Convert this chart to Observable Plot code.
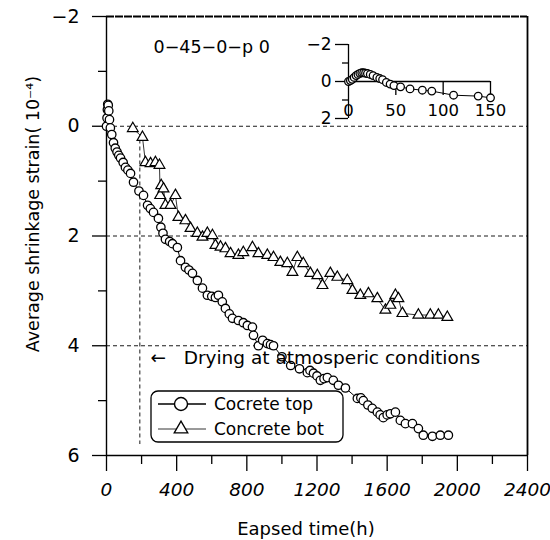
<!DOCTYPE html>
<html><head><meta charset="utf-8">
<script src="https://cdn.jsdelivr.net/npm/d3@7"></script>
<script src="https://cdn.jsdelivr.net/npm/@observablehq/plot@0.6"></script>
<style>
body{margin:0;background:#fff;}
#wrap{position:relative;width:550px;height:540px;font-family:"DejaVu Sans",sans-serif;}
#inset{position:absolute;left:300px;top:30px;}
#legend{position:absolute;left:150px;top:390px;}
</style></head><body><div id="wrap"><div id="main"></div><div id="inset"></div><div id="legend"></div></div>
<script>
// ---- data ----
const topTime   = [0, 3, 5, 7, 10, 13, 17, 22, 30, 40, 50, 60, 70, 80, 95, 108, 122, 137, 154, 185, 211, 234, 250, 268, 296, 310, 322, 336, 360, 376, 404, 422, 450, 470, 490, 518, 547, 575, 600, 621, 638, 660, 678, 700, 718, 752, 780, 803, 832, 838, 866, 890, 917, 935, 952, 1000, 1050, 1100, 1145, 1160, 1180, 1200, 1219, 1240, 1259, 1293, 1322, 1362, 1430, 1450, 1464, 1490, 1515, 1544, 1560, 1578, 1600, 1618, 1647, 1675, 1704, 1744, 1778, 1806, 1858, 1903, 1949];
const topStrain = [0, -0.15, -0.3, -0.4, -0.38, -0.28, -0.12, 0.03, 0.15, 0.3, 0.4, 0.47, 0.53, 0.58, 0.66, 0.75, 0.8, 0.86, 1.02, 1.18, 1.26, 1.44, 1.5, 1.57, 1.68, 1.84, 1.95, 2.06, 2.1, 2.14, 2.21, 2.45, 2.57, 2.62, 2.68, 2.81, 2.95, 3.08, 3.1, 3.12, 3.08, 3.2, 3.32, 3.42, 3.5, 3.54, 3.58, 3.63, 3.66, 3.81, 4.0, 3.9, 3.96, 3.98, 4.0, 4.2, 4.36, 4.42, 4.49, 4.45, 4.5, 4.55, 4.63, 4.6, 4.58, 4.63, 4.72, 4.77, 4.96, 4.95, 5.0, 5.08, 5.14, 5.21, 5.26, 5.31, 5.26, 5.24, 5.21, 5.36, 5.42, 5.42, 5.51, 5.63, 5.65, 5.63, 5.63];
const botTime   = [150, 205, 222, 251, 279, 302, 306, 312, 325, 336, 365, 393, 410, 450, 479, 518, 547, 575, 604, 621, 650, 678, 707, 752, 780, 832, 866, 917, 952, 991, 1031, 1060, 1088, 1122, 1162, 1202, 1231, 1276, 1316, 1373, 1402, 1447, 1493, 1544, 1590, 1618, 1647, 1664, 1687, 1778, 1846, 1892, 1943];
const botStrain = [0.04, 0.2, 0.66, 0.68, 0.66, 0.71, 1.26, 1.08, 1.14, 1.44, 1.44, 1.26, 1.66, 1.72, 1.86, 1.95, 2.02, 1.95, 1.99, 2.17, 2.2, 2.23, 2.32, 2.35, 2.3, 2.21, 2.32, 2.35, 2.39, 2.48, 2.5, 2.66, 2.39, 2.5, 2.68, 2.72, 2.9, 2.68, 2.75, 2.81, 2.99, 3.08, 3.05, 3.14, 3.35, 3.26, 3.08, 3.14, 3.41, 3.44, 3.44, 3.44, 3.48];
const insetTime   = [0, 2, 4, 6, 8, 10, 12, 14, 16, 18, 20, 23, 26, 30, 33, 36, 40, 44, 48, 55, 65, 78, 88, 111, 137, 150];
const insetStrain = [0, -0.05, -0.12, -0.22, -0.32, -0.38, -0.44, -0.47, -0.47, -0.45, -0.43, -0.38, -0.32, -0.22, -0.16, -0.1, 0.05, 0.14, 0.22, 0.29, 0.4, 0.47, 0.52, 0.74, 0.79, 0.88];

const xTicks = [0, 400, 800, 1200, 1600, 2000, 2400];
const xMinor = [200, 600, 1000, 1400, 1800, 2200];
const yTicks = [-2, 0, 2, 4, 6];
const yMinor = [-1, 1, 3, 5];
const gridY = [0, 2, 4];
const insetYTicks = [-2, 0, 2];
const insetYMinor = [-1, 1];
const insetXTicks = [0, 50, 100, 150];
const seriesNames = ["Cocrete top", "Concrete bot"];
const xTitle = "Eapsed time(h)";
const yTitle = "Average shrinkage strain( 10\u207B\u2074)";
const specimenLabel = [{t: 268, s: -1.44, label: "0\u221245\u22120\u2212p 0"}];
const dryingLabel = [{t: 251, s: 4.23, label: "\u2190\u00a0\u00a0\u00a0Drying at atmosperic conditions"}];
const dryingStart = [190];

const FONT = "'DejaVu Sans', sans-serif";
const fmt = d => d < 0 ? "\u2212" + (-d) : String(d);
const topData = topTime.map((t, i) => ({t, s: topStrain[i]}));
const botData = botTime.map((t, i) => ({t, s: botStrain[i]}));
const insetData = insetTime.map((t, i) => ({t, s: insetStrain[i]}));

const main = Plot.plot({
  width: 550, height: 540,
  marginLeft: 106, marginRight: 23, marginTop: 16, marginBottom: 85,
  style: {fontFamily: FONT, background: "white", color: "black", fontSize: "18px"},
  x: {domain: [0, 2400]},
  y: {domain: [-2, 6], reverse: true},
  marks: [
    Plot.ruleY(gridY, {stroke: "black", strokeWidth: 0.9, strokeDasharray: "4,3"}),
    Plot.ruleY([-2], {stroke: "black", strokeWidth: 2, strokeDasharray: "8,1"}),
    Plot.ruleY([6], {stroke: "black", strokeWidth: 1.4}),
    Plot.ruleX([0], {stroke: "black", strokeWidth: 1.4}),
    Plot.ruleX([2400], {stroke: "black", strokeWidth: 1.8}),
    Plot.ruleX(dryingStart, {y1: 0.25, y2: 5.8, stroke: "black", strokeWidth: 0.9, strokeDasharray: "4,3"}),
    Plot.axisX({ticks: xTicks, tickSize: 16, tickPadding: 11, fontSize: 18.5, fontStyle: "italic", tickFormat: fmt, label: null, strokeWidth: 1.3}),
    Plot.axisX({ticks: xMinor, tickSize: 9, tickFormat: () => "", label: null, strokeWidth: 1.3}),
    Plot.axisY({ticks: yTicks, tickSize: 14, tickPadding: 13, fontSize: 19, tickFormat: fmt, label: null, strokeWidth: 1.3}),
    Plot.axisY({ticks: yMinor, tickSize: 8, tickFormat: () => "", label: null, strokeWidth: 1.3}),
    Plot.line(botData, {x: "t", y: "s", stroke: "black", strokeWidth: 0.8}),
    Plot.dot(botData, {x: "t", y: "s", symbol: "triangle", r: 4, fill: "white", stroke: "black", strokeWidth: 1.2}),
    Plot.line(topData, {x: "t", y: "s", stroke: "black", strokeWidth: 1}),
    Plot.dot(topData, {x: "t", y: "s", r: 4.2, fill: "white", stroke: "black", strokeWidth: 1.3}),
    Plot.text(specimenLabel, {x: "t", y: "s", text: "label", textAnchor: "start", fontSize: 17.5}),
    Plot.text(dryingLabel, {x: "t", y: "s", text: "label", textAnchor: "start", fontSize: 18.5}),
    Plot.text([xTitle], {frameAnchor: "bottom", lineAnchor: "middle", textAnchor: "middle", dy: 74, dx: -11, fontSize: 18}),
    Plot.text([yTitle], {frameAnchor: "left", lineAnchor: "middle", textAnchor: "middle", rotate: -90, dx: -73, dy: -22, fontSize: 17.5})
  ]
});
document.getElementById("main").appendChild(main);

const inset = Plot.plot({
  width: 200, height: 100,
  marginLeft: 48, marginRight: 10, marginTop: 14, marginBottom: 12,
  style: {fontFamily: FONT, background: "transparent", color: "black", overflow: "visible", fontSize: "16px"},
  x: {domain: [0, 150], axis: null},
  y: {domain: [-2, 2], reverse: true, axis: null},
  marks: [
    Plot.ruleX([0], {y1: -2, y2: 2, stroke: "black", strokeWidth: 1.3}),
    Plot.ruleY([0], {x1: 0, x2: 150, stroke: "black", strokeWidth: 1.3}),
    Plot.ruleX(insetXTicks.slice(1), {y1: 0, y2: 0.75, stroke: "black", strokeWidth: 1.3}),
    Plot.axisY({ticks: insetYTicks, tickSize: 13, tickPadding: 4, fontSize: 17, tickFormat: fmt, label: null, strokeWidth: 1.3}),
    Plot.axisY({ticks: insetYMinor, tickSize: 6, tickFormat: () => "", label: null, strokeWidth: 1.3}),
    Plot.text(insetXTicks, {x: d => d, y: 1.6, text: d => String(d), fontSize: 16.5}),
    Plot.line(insetData, {x: "t", y: "s", stroke: "black", strokeWidth: 1}),
    Plot.dot(insetData, {x: "t", y: "s", r: 3.8, fill: "white", stroke: "black", strokeWidth: 1.3})
  ]
});
document.getElementById("inset").appendChild(inset);

// legend
const lg = d3.select("#legend").append("svg").attr("width", 196).attr("height", 54)
  .style("font-family", FONT).style("display", "block");
lg.append("rect").attr("x", 1).attr("y", 1).attr("width", 192).attr("height", 51).attr("rx", 7)
  .attr("fill", "white").attr("stroke", "black").attr("stroke-width", 1.3);
const rows = [{y: 14, w: 1.5}, {y: 39, w: 0.8}];
rows.forEach((r, i) => {
  lg.append("line").attr("x1", 8).attr("x2", 56).attr("y1", r.y).attr("y2", r.y)
    .attr("stroke", "black").attr("stroke-width", r.w);
  if (i === 0) {
    lg.append("circle").attr("cx", 31).attr("cy", r.y).attr("r", 6.5)
      .attr("fill", "white").attr("stroke", "black").attr("stroke-width", 1.4);
  } else {
    lg.append("path").attr("d", d3.symbol(d3.symbolTriangle, 80)())
      .attr("transform", `translate(31,${r.y})`)
      .attr("fill", "white").attr("stroke", "black").attr("stroke-width", 1.3);
  }
  lg.append("text").attr("x", 64).attr("y", r.y).attr("dy", "0.36em")
    .attr("font-size", 17).text(seriesNames[i]);
});
</script></body></html>
